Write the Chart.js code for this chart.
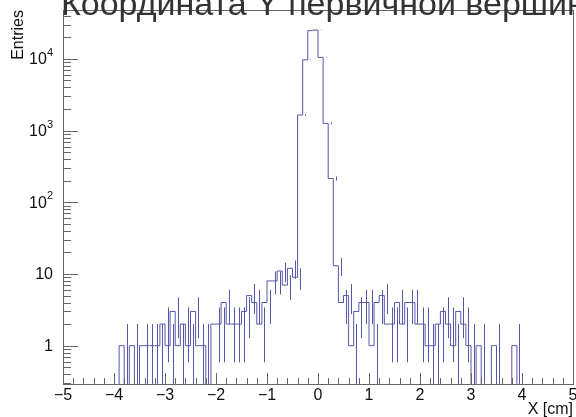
<!DOCTYPE html>
<html>
<head>
<meta charset="utf-8">
<script src="https://cdn.jsdelivr.net/npm/chart.js@4"></script>
<style>
html, body { margin: 0; padding: 0; background: #fff; }
</style>
</head>
<body>
<canvas id="vtxY" width="576" height="417"></canvas>
<script>
// 100 bins, -5 .. 5 cm
const binLow = -5;
const binWidth = 0.1;
const counts = [
	0, 0, 0, 0, 0, 0, 0, 0, 0, 0,
	0, 0, 1, 0, 1, 0, 1, 1, 1, 1,
	2, 1, 3, 1, 2, 1, 3, 1, 1, 0,
	2, 2, 4, 2, 2, 2, 3, 5, 4, 2,
	4, 8, 8, 11, 7, 12, 9, 1650, 9700, 24800,
	25300, 10500, 1260, 215, 13, 4, 5, 1, 3, 4,
	4, 1, 4, 5, 2, 2, 4, 2, 4, 4,
	2, 2, 1, 1, 2, 3, 2, 1, 3, 2,
	1, 0, 1, 0, 0, 1, 0, 0, 0, 1,
	0, 0, 0, 0, 0, 0, 0, 0, 0, 0
];
const xTicks = [-5, -4, -3, -2, -1, 0, 1, 2, 3, 4, 5];
const yDecades = [1, 10, 100, 1000, 10000];
const yLabels = [["1", ""], ["10", ""], ["10", "2"], ["10", "3"], ["10", "4"]];
const yMin = 0.292;
const yMax = 48100;

const histColor = "#5656aa";
const axisColor = "#666";
const font = "'Liberation Sans', Arial, sans-serif";

// step line through the bin edges; empty bins sit far under the axis and get clipped
const steps = counts.map((c, i) => ({ x: binLow + i * binWidth, y: c > 0 ? c : 1e-4 }));
steps.push({ x: binLow + counts.length * binWidth, y: counts[counts.length - 1] > 0 ? counts[counts.length - 1] : 1e-4 });

const errorBars = {
	id: "errorBars",
	afterDatasetsDraw(chart) {
		const { ctx, chartArea: a, scales: { x, y } } = chart;
		ctx.save();
		ctx.beginPath();
		ctx.rect(a.left, a.top, a.right - a.left, a.bottom - a.top);
		ctx.clip();
		ctx.strokeStyle = histColor;
		ctx.lineWidth = 1;
		counts.forEach((c, i) => {
			if (c <= 0) return;
			const e = Math.sqrt(c);
			const px = Math.round(x.getPixelForValue(binLow + (i + 0.5) * binWidth)) + 0.5;
			const lo = c - e > 0 ? y.getPixelForValue(c - e) : a.bottom + 2;
			const hi = y.getPixelForValue(c + e);
			ctx.beginPath();
			ctx.moveTo(px, lo);
			ctx.lineTo(px, hi);
			ctx.stroke();
		});
		ctx.restore();
	}
};

const frameAxes = {
	id: "frameAxes",
	afterDraw(chart) {
		const { ctx, chartArea: a, scales: { x, y } } = chart;
		ctx.save();
		ctx.strokeStyle = axisColor;
		ctx.lineWidth = 1;
		ctx.strokeRect(Math.round(a.left) + 0.5, Math.round(a.top) + 0.5, Math.round(a.right - a.left), Math.round(a.bottom - a.top));

		// x ticks: major every 1, minor every 0.2
		ctx.beginPath();
		for (let k = 0; k <= 50; k++) {
			const v = -5 + k * 0.2;
			const px = Math.round(x.getPixelForValue(v)) + 0.5;
			const len = k % 5 === 0 ? 11 : 6;
			ctx.moveTo(px, a.bottom);
			ctx.lineTo(px, a.bottom - len);
		}
		// y ticks: decades and 2..9 in between
		yDecades.concat([100000]).forEach((d) => {
			for (let m = 1; m <= 9; m++) {
				const v = d / 10 * m;
				if (v < yMin || v > yMax) continue;
				const py = Math.round(y.getPixelForValue(v)) + 0.5;
				const len = m === 1 ? 15 : 8;
				ctx.moveTo(a.left, py);
				ctx.lineTo(a.left + len, py);
			}
		});
		ctx.stroke();

		ctx.fillStyle = "#111";
		ctx.font = "16px " + font;
		ctx.textAlign = "center";
		ctx.textBaseline = "alphabetic";
		xTicks.forEach((t) => {
			const label = t < 0 ? "\u2212" + Math.abs(t) : String(t);
			ctx.fillText(label, x.getPixelForValue(t), 400);
		});

		yDecades.forEach((d, i) => {
			const py = y.getPixelForValue(d);
			const [base, exp] = yLabels[i];
			let right = a.left - 11;
			ctx.textAlign = "right";
			ctx.textBaseline = "middle";
			if (exp) {
				ctx.font = "11px " + font;
				ctx.fillText(exp, right + 1, py - 6);
				right -= ctx.measureText(exp).width;
			}
			ctx.font = "16px " + font;
			ctx.fillText(base, right + 1, py + 1);
		});

		// axis titles
		ctx.font = "16px " + font;
		ctx.textAlign = "right";
		ctx.textBaseline = "alphabetic";
		ctx.fillText("X [cm]", a.right, 414);

		ctx.save();
		ctx.translate(23, a.top);
		ctx.rotate(-Math.PI / 2);
		ctx.textAlign = "right";
		ctx.fillText("Entries", 0, 0);
		ctx.restore();

		// histogram title, cut by the top of the canvas
		ctx.font = "34px " + font;
		ctx.textAlign = "left";
		ctx.fillStyle = "#333";
		ctx.fillText("Координата Y первичной вершины", 61, 15);
		ctx.restore();
	}
};

new Chart(document.getElementById("vtxY"), {
	type: "line",
	data: {
		datasets: [{
			data: steps,
			stepped: "after",
			borderColor: histColor,
			borderWidth: 1,
			pointRadius: 0,
			fill: false
		}]
	},
	options: {
		responsive: false,
		animation: false,
		devicePixelRatio: 1,
		layout: { padding: { left: 63, right: 3, top: 10, bottom: 33 } },
		plugins: { legend: { display: false }, tooltip: { enabled: false } },
		scales: {
			x: { type: "linear", min: -5, max: 5, display: false },
			y: { type: "logarithmic", min: yMin, max: yMax, display: false }
		}
	},
	plugins: [errorBars, frameAxes]
});
</script>
</body>
</html>
